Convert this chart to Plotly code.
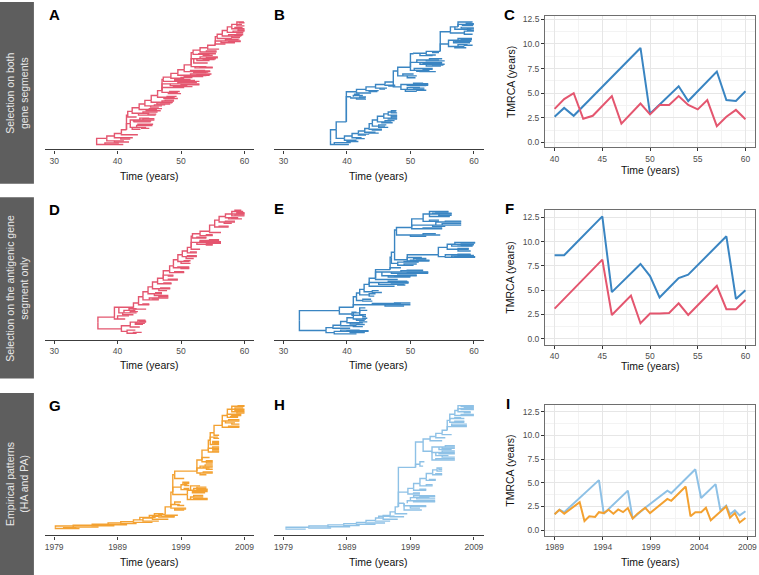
import plotly.graph_objects as go

W, H = 759, 575

# ---------------- TMRCA series ----------------
years_CF = list(range(40, 61))
C_blue = [2.6, 3.5, 2.7, 3.7, 4.7, 5.7, 6.7, 7.7, 8.7, 9.6, 2.9, 3.8, 4.75, 5.7, 4.2, 5.2, 6.2, 7.2, 4.3, 4.2, 5.2]
C_pink = [3.4, 4.4, 5.0, 2.4, 2.7, 3.7, 4.7, 1.9, 2.9, 3.95, 2.85, 3.8, 3.8, 4.7, 3.8, 3.35, 4.3, 1.65, 2.6, 3.3, 2.35]
F_blue = [8.6, 8.6, 9.6, 10.6, 11.6, 12.6, 4.8, 5.75, 6.75, 7.7, 6.45, 4.25, 5.25, 6.25, 6.6, 7.6, 8.6, 9.6, 10.55, 4.1, 5.0]
F_pink = [3.1, 4.1, 5.1, 6.1, 7.1, 8.15, 2.45, 3.45, 4.45, 1.6, 2.6, 2.6, 2.65, 3.65, 2.45, 3.45, 4.45, 5.45, 3.05, 3.05, 4.0]

I_t_blue = [1989.0, 1989.5, 1990.0, 1993.6, 1994.1, 1996.6, 1997.1, 1998.4, 2000.7, 2001.1, 2003.6,
            2004.2, 2005.7, 2006.2, 2006.8, 2007.2, 2007.7, 2008.2, 2008.8]
I_v_blue = [1.67, 2.15, 1.9, 5.28, 1.74, 4.17, 1.22, 2.36, 4.17, 3.9, 6.42,
            3.4, 4.86, 2.08, 2.6, 1.67, 2.08, 1.56, 2.0]
I_t_orange = [1989.0, 1989.5, 1990.0, 1991.6, 1992.1, 1992.6, 1993.2, 1993.6, 1994.1, 1994.6, 1995.1,
              1995.6, 1996.1, 1996.6, 1997.1, 1997.6, 1998.4, 1998.9, 2000.7, 2001.1, 2002.6, 2003.1,
              2003.6, 2004.2, 2004.7, 2005.2, 2006.8, 2007.2, 2007.7, 2008.2, 2008.8]
I_v_orange = [1.67, 2.15, 1.74, 2.95, 0.97, 1.46, 1.39, 1.9, 1.8, 2.15, 1.74,
              2.19, 1.9, 2.33, 1.22, 1.74, 2.36, 1.8, 3.3, 3.1, 4.6, 1.46,
              1.9, 1.9, 2.36, 1.04, 2.5, 1.32, 1.8, 0.8, 1.28]

# ---------------- Trees: edges (branch time, tip/node time, y, parent y) ----------------
tree_A = [
    (36.7, 38.3, 5, 2), (38.3, 39.5, 7, 5), (39.5, 40.6, 9, 7), (40.6, 41.4, 12, 9), (41.4, 41.6, 24, 12),
    (41.6, 42.3, 27, 24), (42.3, 43.4, 30, 27), (43.4, 44.3, 33, 30), (44.3, 45.3, 36, 33), (45.3, 46.3, 40, 36),
    (46.3, 47.0, 44, 40), (47.0, 47.2, 53, 44), (47.2, 48.4, 55, 53), (48.4, 49.5, 58, 55), (49.5, 50.5, 61, 58),
    (50.5, 51.6, 65, 61), (51.6, 51.9, 75, 65), (51.9, 53.0, 77, 75), (53.0, 54.2, 79, 77), (54.2, 55.4, 81, 79),
    (55.4, 55.7, 88, 81), (55.7, 56.5, 90, 88), (56.5, 57.3, 93, 90), (57.3, 58.0, 96, 93),
    (36.7, 40.9, 0, 2), (38.0, 40.2, 1.2, 0),
    (38.3, 41.0, 3, 5), (39.5, 41.8, 2, 3),
    (39.5, 42.4, 5.5, 7), (40.5, 42.0, 4.5, 5.5),
    (40.6, 43.2, 8, 9),
    (41.4, 42.0, 17, 12), (42.0, 45.8, 20, 17), (42.0, 44.5, 14, 17), (42.6, 45.2, 18.5, 20),
    (43.0, 45.5, 15.5, 14), (42.3, 43.6, 12.5, 14), (43.5, 45.0, 21.5, 20),
    (41.6, 43.0, 22.5, 24),
    (42.3, 45.0, 25.5, 27), (43.3, 46.0, 24, 25.5),
    (43.4, 46.2, 28.5, 30), (44.5, 46.8, 27.5, 28.5),
    (44.3, 47.0, 31.5, 33), (45.2, 46.5, 30.5, 31.5),
    (45.3, 48.7, 34.5, 36), (46.2, 48.3, 33, 34.5), (47.0, 48.9, 35.5, 34.5),
    (46.3, 49.0, 38.5, 40), (47.3, 49.5, 37.5, 38.5),
    (47.0, 49.5, 42.5, 44), (47.0, 50.5, 46.5, 44), (47.0, 52.9, 49.5, 44), (48.3, 51.0, 48, 49.5),
    (49.5, 52.5, 50.5, 49.5), (48.0, 50.0, 41.5, 42.5),
    (47.2, 52.9, 51.5, 53),
    (48.4, 50.5, 54, 55), (49.0, 51.5, 53, 54),
    (49.5, 54.5, 56.5, 58), (50.5, 53.5, 55.5, 56.5), (51.5, 54.8, 57.5, 56.5),
    (50.5, 54.6, 59.5, 61), (51.5, 53.8, 60.5, 59.5), (52.0, 54.0, 58.7, 59.5),
    (51.6, 54.0, 63.5, 65), (52.2, 55.0, 62.5, 63.5),
    (51.6, 55.5, 70, 65), (52.5, 54.5, 68.5, 70), (53.0, 55.8, 71.5, 70), (52.0, 54.2, 66.5, 70),
    (51.9, 54.5, 73.5, 75), (52.8, 55.5, 74, 73.5),
    (53.0, 55.6, 75.5, 77),
    (54.2, 56.0, 77.8, 79),
    (55.4, 59.4, 84.5, 81), (56.3, 58.5, 83, 84.5), (57.0, 59.0, 85.5, 84.5), (55.4, 57.0, 82, 81),
    (55.7, 58.0, 86.5, 88),
    (56.5, 59.5, 88.5, 90), (57.5, 59.8, 89.5, 88.5), (58.0, 59.3, 87.5, 88.5),
    (57.3, 59.8, 91.5, 93), (58.2, 60.0, 92.5, 91.5),
    (58.0, 60.0, 94.5, 96), (58.0, 59.6, 98, 96), (58.8, 59.9, 100, 98), (58.8, 60.0, 96.8, 98),
    (59.0, 60.0, 93.5, 94.5), (58.5, 59.7, 95.5, 94.5),
    (42.5, 45.3, 19.2, 20), (43.2, 45.6, 16.5, 15.5), (43.8, 45.0, 13.2, 14), (44.0, 45.8, 21, 20),
    (44.0, 46.3, 26.5, 25.5), (44.8, 46.1, 24.8, 24), (45.0, 47.0, 29.3, 28.5), (45.8, 47.5, 32.3, 31.5),
    (46.8, 48.6, 34, 34.5), (47.5, 48.9, 36.2, 35.5), (47.8, 49.3, 39.3, 38.5), (48.2, 49.8, 43.3, 42.5),
    (48.8, 51.8, 47.2, 46.5), (50.0, 52.9, 48.8, 49.5), (49.0, 52.2, 52.2, 51.5), (50.0, 51.8, 54.7, 54),
    (51.0, 54.0, 56.2, 55.5), (52.5, 54.6, 57, 57.5), (52.5, 54.3, 59.2, 59.5), (53.0, 54.6, 60, 60.5),
    (53.0, 55.0, 63, 62.5), (53.5, 55.3, 69.3, 68.5), (54.0, 55.8, 70.8, 71.5), (53.5, 55.0, 72.8, 73.5),
    (54.0, 55.6, 76.3, 75.5), (57.5, 59.4, 84, 84.5), (58.0, 59.2, 86, 85.5), (58.5, 59.6, 89, 89.5),
    (58.8, 59.8, 91, 91.5), (59.0, 60.0, 93, 92.5), (59.2, 60.0, 99.3, 100),
]

tree_B = [
    (37.4, 40.3, 0, 3), (38.0, 40.6, 1.5, 0),
    (37.4, 38.3, 12, 3),
    (38.3, 39.6, 5, 12),
    (39.6, 40.8, 7, 5), (40.8, 41.8, 9, 7), (41.8, 42.8, 11, 9), (42.8, 43.5, 13, 11), (43.5, 44.0, 17, 13),
    (44.0, 44.8, 20, 17), (44.8, 45.8, 23, 20), (45.8, 46.5, 25, 23),
    (39.6, 41.5, 3.5, 5), (40.8, 42.3, 5.5, 7), (41.8, 43.0, 7.8, 9), (42.8, 44.5, 10, 11), (43.5, 45.5, 12.5, 13),
    (44.0, 46.0, 15, 17), (45.0, 46.5, 14, 15), (44.8, 47.0, 18.5, 20), (45.8, 47.9, 21.5, 23), (46.5, 47.9, 24, 25),
    (46.5, 47.7, 26.5, 25), (46.0, 47.5, 19.5, 18.5), (47.0, 47.9, 22.5, 21.5), (47.0, 47.8, 27.5, 26.5),
    (38.3, 39.9, 18.5, 12),
    (39.9, 40.6, 39, 18.5), (40.6, 42.9, 38, 39), (41.0, 42.5, 40, 39), (41.5, 43.0, 37, 38), (41.2, 42.0, 41, 40),
    (39.9, 41.5, 43, 18.5),
    (41.5, 43.0, 45, 43), (43.0, 44.5, 47, 45), (44.5, 46.0, 49, 47), (46.0, 47.3, 51, 49),
    (41.5, 43.8, 42, 43), (43.0, 45.0, 44, 45), (44.5, 46.3, 46, 47), (45.2, 46.0, 45.2, 46), (46.0, 47.6, 48.3, 49),
    (47.3, 48.5, 47, 51), (48.5, 52.8, 49, 47), (48.5, 52.2, 45, 47), (49.5, 51.5, 46.5, 45), (50.0, 52.5, 48, 49),
    (49.2, 51.0, 43.5, 45), (50.5, 52.0, 50, 49),
    (47.3, 48.0, 60, 51), (48.0, 51.0, 56, 60), (48.8, 50.5, 57.5, 56), (49.5, 50.8, 54.5, 56), (48.0, 50.0, 63, 60),
    (50.0, 53.0, 60.5, 63), (50.6, 53.5, 62, 60.5), (51.5, 54.0, 59.5, 60.5), (50.0, 55.0, 67, 63),
    (51.0, 54.5, 69, 67), (51.5, 55.4, 65.5, 67), (52.5, 54.8, 64, 65.5), (50.0, 50.5, 74, 63),
    (50.5, 52.5, 74.5, 74), (52.5, 54.7, 76, 74.5), (51.5, 53.5, 72.5, 74), (52.5, 54.0, 73, 74.5), (53.5, 54.5, 75, 76),
    (54.7, 56.0, 82, 76), (56.0, 59.6, 85, 82), (56.0, 58.5, 80, 82), (56.8, 59.4, 83, 85), (57.5, 59.7, 86.5, 85),
    (57.0, 58.8, 79, 80), (57.5, 59.0, 81.5, 80),
    (54.7, 56.3, 92, 76), (56.3, 57.5, 96, 92), (57.5, 60.0, 98, 96), (57.5, 59.8, 100, 96), (58.0, 60.0, 95, 96),
    (56.3, 58.5, 91, 92), (58.5, 60.0, 92.5, 91), (58.5, 59.8, 90, 91), (57.0, 59.6, 94, 96), (58.2, 59.9, 97, 98),
    (58.8, 59.6, 99, 98),
    (40.0, 41.8, 2.5, 3.5), (41.5, 42.8, 4.8, 5.5), (42.0, 43.5, 8.5, 7.8), (43.5, 45.0, 9.3, 10),
    (44.0, 45.5, 11.8, 12.5), (45.0, 46.2, 16, 15), (45.5, 47.2, 17.8, 18.5), (46.5, 47.9, 20.8, 21.5),
    (47.0, 47.9, 23.3, 24), (47.0, 47.9, 25.8, 26.5),
    (42.0, 43.0, 38.8, 38), (43.5, 44.8, 43.3, 44), (46.6, 47.6, 47.6, 48.3),
    (49.5, 52.8, 48.4, 49), (51.0, 52.5, 44.3, 45), (50.5, 52.2, 46.0, 46.5), (51.5, 52.8, 49.6, 49),
    (51.0, 52.6, 59.7, 60.5), (52.0, 53.5, 61.4, 62), (52.0, 55.0, 66.2, 65.5), (52.5, 55.4, 68.2, 69),
    (53.0, 55.0, 70, 69), (53.5, 55.2, 64.8, 65.5),
    (57.0, 59.6, 84.2, 85), (58.0, 59.7, 85.8, 86.5), (58.0, 59.3, 83.6, 83), (58.5, 59.8, 81, 81.5),
    (59.0, 60.0, 93.2, 92.5), (59.0, 60.0, 98.6, 98), (59.0, 60.0, 94.3, 95),
]

tree_D = [
    (36.9, 40.6, 4, 9), (36.9, 39.5, 13.5, 9),
    (40.6, 41.5, 2, 4), (41.5, 43.0, 0.5, 2), (41.5, 42.8, 3, 2), (40.6, 42.0, 6.5, 4), (42.0, 44.5, 9.5, 6.5),
    (42.0, 43.5, 5.5, 6.5), (42.8, 44.0, 7.8, 9.5), (43.2, 44.4, 11, 9.5), (42.5, 43.8, 1.2, 0.5),
    (39.5, 41.2, 12, 13.5), (39.5, 42.5, 21.5, 13.5), (40.2, 43.0, 17, 21.5), (41.0, 42.8, 19, 17),
    (40.8, 42.5, 15.5, 17), (40.0, 41.8, 14.5, 12),
    (42.5, 43.3, 25, 21.5), (43.3, 44.0, 30, 25), (44.0, 44.8, 34, 30), (44.8, 45.5, 38, 34), (45.5, 46.3, 42, 38),
    (46.3, 47.2, 45, 42), (47.2, 48.2, 51, 45), (48.2, 48.8, 55, 51), (48.8, 49.5, 60, 55), (49.5, 50.2, 64, 60),
    (50.2, 51.0, 67, 64), (51.0, 51.6, 70, 67), (51.6, 51.8, 79, 70), (51.8, 53.0, 81, 79), (53.0, 54.5, 83, 81),
    (54.5, 55.3, 88, 83), (55.3, 56.0, 92, 88), (56.0, 57.0, 95, 92),
    (42.5, 44.5, 20, 21.5), (43.3, 45.0, 23.5, 25), (44.0, 46.5, 27.5, 30), (45.0, 48.0, 29, 27.5),
    (44.8, 47.0, 32.5, 34), (45.8, 48.0, 31, 32.5), (45.5, 48.3, 36.5, 38), (46.5, 47.8, 35, 36.5),
    (46.3, 48.5, 40.5, 42), (47.2, 49.5, 43.5, 45), (47.2, 48.8, 47.5, 45), (48.2, 50.5, 49.5, 51),
    (48.8, 51.3, 53.5, 55), (49.5, 51.3, 58.5, 60), (50.0, 51.5, 57, 58.5), (50.2, 52.5, 62.5, 64),
    (50.8, 52.0, 61, 62.5), (51.0, 52.5, 65.5, 67), (51.6, 56.3, 74, 70), (52.5, 55.0, 72.5, 74),
    (53.0, 56.0, 75.5, 74), (54.0, 56.3, 73.2, 74), (51.6, 53.0, 68.5, 70), (51.8, 54.0, 77.5, 79),
    (53.0, 55.0, 79.5, 81), (54.5, 56.3, 82, 83), (55.3, 57.5, 86.5, 88), (56.0, 58.5, 90.5, 92),
    (56.8, 58.0, 89.5, 90.5),
    (57.0, 60.0, 97, 95), (57.0, 59.0, 94, 95), (58.0, 59.8, 99, 97), (58.0, 60.0, 95.5, 97),
    (58.5, 59.5, 100, 99), (57.5, 59.6, 93, 94), (58.8, 60.0, 98, 97),
    (43.5, 44.5, 10.2, 9.5), (43.0, 44.3, 8.6, 9.5), (42.0, 43.2, 18, 17), (41.8, 43.0, 20.3, 19),
    (44.0, 45.0, 24.2, 23.5), (45.5, 46.5, 28.2, 27.5), (46.5, 48.0, 30, 29), (46.0, 47.0, 33.3, 32.5),
    (46.8, 48.3, 37.2, 36.5), (47.3, 48.5, 41.2, 40.5), (48.0, 49.5, 44.2, 43.5), (48.0, 48.8, 46.8, 47.5),
    (49.0, 50.5, 50.2, 49.5), (49.5, 51.3, 54.2, 53.5), (50.0, 51.3, 52.8, 53.5), (50.5, 51.5, 59.2, 58.5),
    (51.0, 52.5, 63.2, 62.5), (51.5, 52.5, 66.2, 65.5),
    (53.0, 56.3, 74.6, 74), (54.0, 55.0, 71.8, 72.5), (54.5, 56.0, 76.2, 75.5), (52.5, 54.0, 78.2, 77.5),
    (54.0, 55.0, 80.2, 79.5), (56.0, 57.5, 87.2, 86.5), (57.0, 58.5, 91.2, 90.5),
    (58.5, 60.0, 96.3, 95.5), (59.0, 60.0, 97.6, 97), (58.0, 59.0, 93.6, 94),
]

tree_E = [
    (32.5, 36.7, 2.7, 10.5), (32.5, 38.8, 18.8, 10.5),
    (36.7, 38.0, 1, 2.7), (38.0, 41.5, 0, 1), (38.0, 43.4, 2, 1), (39.0, 42.0, 3, 2), (40.5, 42.8, 1, 2),
    (36.7, 37.8, 5, 2.7), (37.8, 39.0, 7, 5), (39.0, 40.0, 10, 7), (40.0, 41.0, 13, 10), (41.0, 42.0, 17, 13),
    (42.0, 42.9, 21, 17),
    (37.8, 40.5, 4.5, 5), (39.0, 41.5, 6.5, 7), (40.0, 42.5, 9, 10), (40.5, 42.0, 8, 9), (41.0, 43.0, 12, 13),
    (42.0, 43.0, 15.5, 17), (41.5, 42.8, 11, 12), (42.0, 43.2, 19, 17),
    (38.8, 40.8, 16, 18.8), (40.8, 42.5, 15, 16), (40.8, 41.5, 17.5, 16),
    (38.8, 41.0, 21.5, 18.8),
    (41.0, 50.0, 23.5, 21.5), (44.0, 48.5, 24.5, 23.5), (46.0, 49.0, 22.5, 23.5), (47.5, 50.0, 25, 23.5),
    (41.0, 41.5, 30, 21.5),
    (41.5, 42.5, 27, 30), (42.5, 44.0, 26.5, 27), (42.5, 43.8, 28, 27),
    (41.5, 42.0, 33, 30),
    (42.0, 43.5, 31.5, 33), (43.5, 44.3, 30.5, 31.5), (43.5, 44.5, 32.5, 31.5),
    (42.0, 42.7, 36, 33),
    (42.7, 44.0, 34, 36), (44.0, 45.5, 33.5, 34), (44.0, 45.0, 35, 34),
    (42.7, 43.5, 40, 36),
    (43.5, 49.7, 41.5, 40), (45.0, 49.0, 40, 41.5), (46.5, 49.5, 42.5, 41.5), (43.5, 47.5, 38.5, 40),
    (43.5, 44.5, 45, 40),
    (44.5, 52.8, 50, 45), (47.0, 52.8, 49, 50), (48.5, 52.0, 51, 50), (45.5, 51.0, 47, 50), (46.5, 50.0, 46, 47),
    (44.5, 48.0, 44, 45),
    (44.5, 46.8, 52, 45),
    (46.8, 47.0, 62, 52), (46.8, 48.5, 53.5, 52),
    (47.0, 48.0, 57, 62), (48.0, 51.3, 58, 57), (48.0, 50.5, 55.5, 57), (49.0, 51.0, 56.5, 55.5),
    (47.0, 47.5, 66, 62),
    (47.5, 49.5, 60, 66), (49.5, 53.0, 59, 60), (50.5, 52.5, 61, 60), (49.5, 51.8, 61.8, 60),
    (49.5, 54.4, 64, 60),
    (54.4, 55.5, 62.5, 64), (55.5, 60.2, 62, 62.5), (55.5, 59.5, 64, 62.5), (56.5, 60.0, 63, 62),
    (54.4, 55.8, 70, 64), (55.8, 60.0, 72.5, 70), (55.8, 59.2, 68.5, 70), (56.5, 59.8, 71, 72.5),
    (57.0, 60.2, 74, 72.5), (57.5, 59.5, 67, 68.5),
    (47.5, 47.8, 84, 66),
    (47.8, 54.7, 80, 84), (50.0, 52.5, 79, 80), (52.0, 54.0, 81, 80),
    (47.8, 50.2, 86, 84),
    (50.2, 58.0, 88, 86), (50.2, 55.0, 85, 86),
    (50.2, 52.0, 93, 86), (52.0, 56.5, 97, 93), (53.0, 56.0, 99, 97), (53.0, 56.2, 95, 97), (52.0, 54.5, 91, 93),
    (54.0, 58.0, 90.5, 88), (53.5, 55.5, 87, 88), (54.5, 56.5, 96, 97),
    (41.0, 42.8, 1.6, 1), (40.0, 43.4, 2.6, 2), (41.0, 42.5, 5.8, 6.5), (41.5, 42.8, 7.5, 8), (42.0, 43.2, 9.7, 9),
    (42.5, 43.2, 12.6, 12), (42.5, 43.0, 14, 15.5),
    (45.0, 48.0, 24, 23.5), (47.0, 49.7, 41, 41.5), (48.0, 49.2, 39.5, 40), (48.0, 49.7, 42, 42.5),
    (49.5, 52.8, 49.6, 50), (49.5, 52.0, 51.6, 51), (48.0, 51.0, 47.6, 47), (47.5, 50.0, 46.5, 46),
    (49.0, 51.3, 58.5, 58), (50.0, 53.0, 59.5, 59), (51.0, 52.5, 60.5, 61),
    (57.0, 60.2, 62.5, 62), (57.5, 60.0, 63.5, 63), (57.5, 59.5, 64.5, 64), (57.5, 60.0, 72, 72.5),
    (58.0, 60.2, 73.5, 74), (58.0, 59.8, 71.5, 71), (57.5, 59.2, 69.2, 68.5),
    (53.5, 56.5, 97.6, 97), (54.0, 56.0, 98.5, 99), (54.5, 56.2, 95.6, 95), (53.0, 54.5, 92, 91),
    (55.0, 58.0, 89.2, 88), (55.5, 58.0, 91.2, 90.5), (52.0, 55.0, 85.6, 85),
]

tree_G = [
    (1979.2, 1982.0, 2.5, 1.5), (1982.0, 1985.0, 3.2, 2.5), (1985.0, 1987.5, 4, 3.2), (1987.5, 1989.5, 5, 4),
    (1989.5, 1991.5, 6, 5), (1991.5, 1993.0, 7.5, 6), (1993.0, 1994.5, 9, 7.5), (1994.5, 1995.5, 10.5, 9),
    (1995.5, 1996.5, 12, 10.5),
    (1979.2, 1983.0, 0.5, 1.5), (1980.5, 1982.5, 1.2, 0.5),
    (1982.0, 1986.0, 1.8, 2.5), (1985.0, 1988.5, 2.8, 3.2), (1987.5, 1990.5, 3.6, 4), (1989.5, 1992.0, 4.5, 5),
    (1991.5, 1994.5, 5.5, 6), (1993.0, 1995.5, 6.5, 7.5), (1992.5, 1995.0, 9.5, 7.5), (1994.5, 1997.0, 8, 9),
    (1995.5, 1998.0, 9.8, 10.5), (1996.5, 1998.5, 11.2, 12), (1994.0, 1996.0, 11, 9), (1994.8, 1996.2, 12.5, 11),
    (1996.5, 1997.4, 18, 12),
    (1997.4, 1999.8, 17, 18), (1998.0, 1999.5, 15.5, 17), (1997.4, 1998.8, 20, 18), (1998.0, 1999.0, 22, 20),
    (1997.4, 1997.7, 30, 18),
    (1997.7, 1999.0, 34, 30), (1999.0, 2000.3, 32, 34), (1999.0, 2000.0, 36, 34), (1999.3, 2000.3, 38, 36),
    (1997.7, 2000.0, 28, 30), (2000.0, 2003.2, 24, 28), (2000.0, 2003.2, 31.5, 28), (2000.5, 2002.5, 26, 24),
    (2000.8, 2002.8, 29.5, 31.5), (2001.0, 2003.0, 33, 31.5), (2000.5, 2002.0, 35, 31.5),
    (1997.7, 1998.0, 44, 30),
    (1998.0, 1999.5, 41, 44), (1998.0, 2001.5, 47, 44),
    (2001.5, 2004.0, 45.5, 47), (2001.5, 2003.5, 49.5, 47), (2002.0, 2004.0, 51, 49.5), (2002.0, 2003.0, 44, 45.5),
    (2001.5, 2002.3, 56, 47),
    (2002.3, 2004.0, 54.5, 56), (2002.3, 2003.5, 58, 56),
    (2002.3, 2003.3, 64, 56),
    (2003.3, 2005.0, 62.5, 64), (2003.3, 2005.0, 65.5, 64),
    (2003.3, 2003.6, 72, 64),
    (2003.6, 2005.0, 68.5, 72), (2003.6, 2004.8, 74.5, 72), (2004.0, 2005.0, 70, 68.5),
    (2003.6, 2004.2, 78, 72),
    (2004.2, 2005.0, 76, 78), (2004.2, 2005.5, 84, 78),
    (2005.5, 2008.2, 82.5, 84), (2005.5, 2008.2, 87.5, 84), (2006.0, 2007.5, 86, 87.5),
    (2005.5, 2006.3, 92, 84),
    (2006.3, 2009.0, 97, 92), (2006.3, 2008.5, 93, 92), (2007.0, 2009.0, 99.5, 97), (2007.0, 2009.0, 95, 97),
    (2007.5, 2008.8, 98, 97), (2006.3, 2008.0, 90.5, 92),
    (1996.0, 1998.0, 10.4, 9.8), (1998.0, 1999.8, 16.3, 17), (1998.5, 1999.5, 19.2, 20),
    (1999.5, 2000.3, 33, 32), (1999.5, 2000.3, 37, 36), (1999.6, 2000.3, 35.2, 36),
    (2001.0, 2003.2, 24.8, 24), (2001.0, 2003.2, 30.5, 29.5), (2001.5, 2003.2, 32.3, 31.5),
    (2001.5, 2003.0, 34, 33), (2001.0, 2002.5, 27.2, 26),
    (2002.5, 2004.0, 46.3, 45.5), (2002.5, 2004.0, 50.2, 49.5), (2003.0, 2004.0, 48.5, 49.5), (2002.8, 2004.0, 52, 51),
    (2003.0, 2004.0, 55.5, 54.5), (2003.0, 2004.0, 53.5, 54.5),
    (2004.0, 2005.0, 63.3, 62.5), (2004.0, 2005.0, 66.5, 65.5), (2004.0, 2005.0, 64.5, 65.5),
    (2004.2, 2005.0, 69.3, 68.5), (2004.2, 2005.0, 73.5, 74.5), (2004.0, 2005.0, 71, 70),
    (2006.5, 2008.2, 83.3, 82.5), (2006.5, 2008.2, 88.5, 87.5), (2007.0, 2008.2, 85, 86),
    (2007.5, 2009.0, 96, 95), (2008.0, 2009.0, 100, 99.5), (2007.8, 2009.0, 94, 95), (2007.0, 2008.5, 92, 93),
    (2006.8, 2008.0, 91.3, 90.5),
]

tree_H = [
    (1979.4, 1983.0, 1.5, 0.5), (1983.0, 1986.0, 2.5, 1.5), (1986.0, 1988.5, 3.5, 2.5), (1988.5, 1990.5, 4.5, 3.5),
    (1990.5, 1992.0, 5.5, 4.5), (1992.0, 1993.5, 7, 5.5), (1993.5, 1994.7, 9, 7), (1994.7, 1995.8, 11, 9),
    (1995.8, 1996.6, 14, 11), (1996.6, 1997.1, 18, 14),
    (1979.4, 1982.5, 0, 0.5), (1983.0, 1986.5, 1, 1.5), (1986.0, 1989.5, 2, 2.5), (1988.5, 1991.0, 3, 3.5),
    (1990.5, 1993.5, 4, 4.5), (1992.0, 1995.0, 5, 5.5), (1993.5, 1995.8, 6.5, 7), (1994.7, 1997.0, 8, 9),
    (1995.8, 1998.0, 10, 11), (1996.6, 1998.5, 12.5, 14), (1994.0, 1996.5, 10.5, 9),
    (1997.1, 1998.0, 21, 18),
    (1998.0, 2000.8, 15.5, 21), (1998.0, 2001.5, 19, 21), (1998.5, 2002.9, 23, 21), (1999.0, 2002.0, 25.5, 23),
    (1999.5, 2002.9, 27, 25.5), (1999.0, 2000.5, 17, 19),
    (1997.1, 1998.6, 30, 18),
    (1998.6, 1999.5, 33, 30), (1999.5, 2000.5, 37, 33), (2000.5, 2001.5, 41, 37), (2001.5, 2002.5, 45, 41),
    (2002.5, 2003.2, 48, 45),
    (1998.6, 2000.5, 28.5, 30), (1999.5, 2001.5, 31.5, 33), (2000.5, 2002.5, 35, 37), (2001.5, 2003.0, 39.5, 41),
    (2002.5, 2004.0, 44, 45), (2003.2, 2004.0, 47, 48), (2003.2, 2004.0, 49.5, 48),
    (1997.1, 1999.8, 50, 18),
    (1999.8, 2000.5, 52.5, 50), (2000.5, 2001.0, 51, 52.5), (2000.5, 2001.2, 54.5, 52.5),
    (1999.8, 2001.0, 70.5, 50),
    (2001.0, 2002.4, 63, 70.5), (2002.4, 2006.0, 66.5, 63), (2002.4, 2006.0, 62, 63), (2002.4, 2006.0, 56, 63),
    (2003.0, 2005.0, 59.5, 62), (2003.5, 2005.5, 64.5, 66.5),
    (2001.0, 2002.1, 73, 70.5),
    (2002.1, 2003.0, 75, 73), (2003.0, 2004.0, 77.5, 75), (2004.0, 2004.8, 80, 77.5), (2004.8, 2005.2, 88, 80),
    (2005.2, 2006.0, 93, 88), (2006.0, 2006.5, 96, 93),
    (2002.1, 2004.0, 71.5, 73), (2003.0, 2004.5, 74, 75), (2004.0, 2005.5, 76.5, 77.5), (2004.8, 2007.9, 83, 80),
    (2005.5, 2007.9, 85, 83), (2005.2, 2007.5, 86.5, 88), (2006.0, 2009.0, 92, 93), (2006.5, 2009.0, 100, 96),
    (2006.5, 2009.0, 97.5, 96), (2006.5, 2008.5, 95, 96), (2005.2, 2007.5, 89.5, 88), (2007.5, 2009.0, 98.5, 97.5),
    (1999.0, 2001.5, 18.2, 19), (1999.5, 2002.9, 22.2, 23), (2000.0, 2002.9, 24.5, 25.5), (2000.5, 2002.9, 26.2, 27),
    (1999.5, 2000.5, 29.3, 28.5), (2000.5, 2001.5, 32.3, 31.5), (2001.5, 2002.5, 36, 35), (2002.0, 2003.0, 40.3, 39.5),
    (2003.0, 2004.0, 44.8, 44), (2003.5, 2004.0, 48.3, 49.5),
    (2003.0, 2006.0, 57, 56), (2003.5, 2006.0, 61, 62), (2004.0, 2006.0, 63.2, 62), (2004.0, 2006.0, 65.5, 66.5),
    (2004.0, 2006.0, 58.3, 59.5), (2004.5, 2006.0, 67.5, 66.5),
    (2005.5, 2007.9, 83.8, 83), (2006.0, 2007.5, 87.3, 86.5), (2007.0, 2009.0, 99.2, 100), (2007.0, 2009.0, 96.7, 97.5),
    (2007.0, 2009.0, 92.8, 92), (2007.5, 2008.5, 94.2, 95), (2006.0, 2007.0, 90.3, 89.5),
]

# ---------------- styling ----------------
PINK = "#E4566F"
BLUE = "#3A85C2"
ORANGE = "#F3A131"
LBLUE = "#8EC1E6"
FONT = "Liberation Sans, Arial, sans-serif"
TICKC = "#4D4D4D"


def fx(px):
    return px / W


def fy(py):
    return 1 - py / H


def tree_xy(edges):
    xs, ys = [], []
    for t0, t1, y, yp in edges:
        xs += [t0, t0, t1, None]
        ys += [yp, y, y, None]
    return xs, ys


fig = go.Figure()
layout = dict(
    width=W, height=H, margin=dict(l=0, r=0, t=0, b=0),
    paper_bgcolor="white", plot_bgcolor="white", showlegend=False,
    font=dict(family=FONT, color="black"),
)

# rows: (top_px, bottom_axis_px, y0_px, y100_px)
rows = [(10, 148, 143, 20), (200, 339, 333, 209), (395, 535.3, 529, 405)]
cols = [(45, 255), (275, 485)]
tree_panels = [
    (1, tree_A, PINK, 0, 0, [30, 40, 50, 60], [28.54, 61.55]),
    (2, tree_B, BLUE, 1, 0, [30, 40, 50, 60], [28.54, 61.55]),
    (4, tree_D, PINK, 0, 1, [30, 40, 50, 60], [28.54, 61.55]),
    (5, tree_E, BLUE, 1, 1, [30, 40, 50, 60], [28.54, 61.55]),
    (7, tree_G, ORANGE, 0, 2, [1979, 1989, 1999, 2009], [1977.54, 2010.55]),
    (8, tree_H, LBLUE, 1, 2, [1979, 1989, 1999, 2009], [1977.54, 2010.55]),
]
for idx, edges, color, c, r, tv, xr in tree_panels:
    xs, ys = tree_xy(edges)
    fig.add_trace(go.Scatter(x=xs, y=ys, mode="lines", line=dict(color=color, width=1.4),
                             xaxis=f"x{idx}", yaxis=f"y{idx}", hoverinfo="skip"))
    top, bot, y0, y100 = rows[r]
    sc = (y0 - y100) / 100.0
    yr = [-(bot - y0) / sc, 100 + (y100 - top) / sc]
    layout[f"xaxis{idx}"] = dict(
        domain=[fx(cols[c][0]), fx(cols[c][1])], range=xr, anchor=f"y{idx}",
        showline=True, linecolor="#3C3C3C", linewidth=1.4, ticks="outside", ticklen=3,
        tickcolor="#3C3C3C", tickwidth=1, tickvals=tv, tickfont=dict(size=8.5, color=TICKC, family=FONT),
        showgrid=False, zeroline=False, ticklabeloverflow="allow")
    layout[f"yaxis{idx}"] = dict(domain=[fy(bot), fy(top)], range=yr, anchor=f"x{idx}", visible=False)

# line panels
line_panels = [
    (3, (14, 146), [39, 61], [-0.52, 12.85], 40,
     [(years_CF, C_blue, BLUE), (years_CF, C_pink, PINK)]),
    (6, (208.3, 344.3), [39, 61], [-0.65, 13.3], 40,
     [(years_CF, F_blue, BLUE), (years_CF, F_pink, PINK)]),
    (9, (404, 536), [1988.01, 2009.79], [-0.63, 13.25], 1989,
     [(I_t_blue, I_v_blue, LBLUE), (I_t_orange, I_v_orange, ORANGE)]),
]
for idx, (top, bot), xr, yr, t0, series in line_panels:
    for xv, yv, col in series:
        fig.add_trace(go.Scatter(x=xv, y=yv, mode="lines", line=dict(color=col, width=2),
                                 xaxis=f"x{idx}", yaxis=f"y{idx}", hoverinfo="skip"))
    common = dict(showline=True, mirror=True, linecolor="#6E6E6E", linewidth=1, ticks="outside",
                  ticklen=3, tickcolor="#333333", tickwidth=1, zeroline=False,
                  showgrid=True, gridcolor="#E6E6E6", gridwidth=1, ticklabeloverflow="allow",
                  tickfont=dict(size=8.5, color=TICKC, family=FONT))
    layout[f"xaxis{idx}"] = dict(common, domain=[fx(546.5), fx(757)], range=xr, anchor=f"y{idx}",
                                 tickmode="linear", tick0=t0, dtick=5,
                                 minor=dict(tick0=t0, dtick=2.5, showgrid=True, gridcolor="#F3F3F3",
                                            gridwidth=0.6, ticks=""))
    layout[f"yaxis{idx}"] = dict(common, domain=[fy(bot), fy(top)], range=yr, anchor=f"x{idx}",
                                 tickmode="linear", tick0=0, dtick=2.5, tickformat=".1f",
                                 minor=dict(tick0=0, dtick=1.25, showgrid=True, gridcolor="#F3F3F3",
                                            gridwidth=0.6, ticks=""))

# gray row-label boxes
shapes = []
row_boxes = [(0, 182.3), (196, 377.7), (392.3, 575)]
for (t, b) in row_boxes:
    shapes.append(dict(type="rect", xref="paper", yref="paper", x0=0, x1=fx(34), y0=fy(b), y1=fy(t),
                       fillcolor="#5E5E5E", line=dict(width=0), layer="below"))
layout["shapes"] = shapes

ann = []
row_texts = ["Selection on both<br>gene segments",
             "Selection on the antigenic gene<br>segment only",
             "Empirical patterns<br>(HA and PA)"]
for (t, b), txt in zip(row_boxes, row_texts):
    ann.append(dict(text=txt, x=fx(17), y=fy((t + b) / 2), xref="paper", yref="paper", showarrow=False,
                    textangle=-90, font=dict(size=10.5, color="#E8E8E8", family=FONT),
                    xanchor="center", yanchor="middle", align="center"))

letters = [("A", 55, 13), ("B", 280, 13), ("C", 511, 13), ("D", 55, 208), ("E", 279.5, 207.5),
           ("F", 511, 207.5), ("G", 55, 405), ("H", 280, 404), ("I", 509, 403)]
for s, x, y in letters:
    ann.append(dict(text=f"<b>{s}</b>", x=fx(x), y=fy(y), xref="paper", yref="paper", showarrow=False,
                    font=dict(size=15, color="black", family=FONT), xanchor="center", yanchor="middle"))

time_titles = [(150, 174.5), (380, 174.5), (651.75, 168.5), (150, 364), (380, 364), (651.75, 365),
               (150, 562), (380, 562), (651.75, 561.5)]
for x, y in time_titles:
    ann.append(dict(text="Time (years)", x=fx(x), y=fy(y), xref="paper", yref="paper", showarrow=False,
                    font=dict(size=10.5, color="#111111", family=FONT), xanchor="center", yanchor="middle"))

for y in [80, 276.3, 470]:
    ann.append(dict(text="TMRCA (years)", x=fx(511.7), y=fy(y), xref="paper", yref="paper", showarrow=False,
                    textangle=-90, font=dict(size=10.5, color="#111111", family=FONT),
                    xanchor="center", yanchor="middle"))
layout["annotations"] = ann

fig.update_layout(**layout)
fig.write_html("out.html", config={"displayModeBar": False},
               post_script="document.body.style.margin='0';document.body.style.overflow='hidden';")
